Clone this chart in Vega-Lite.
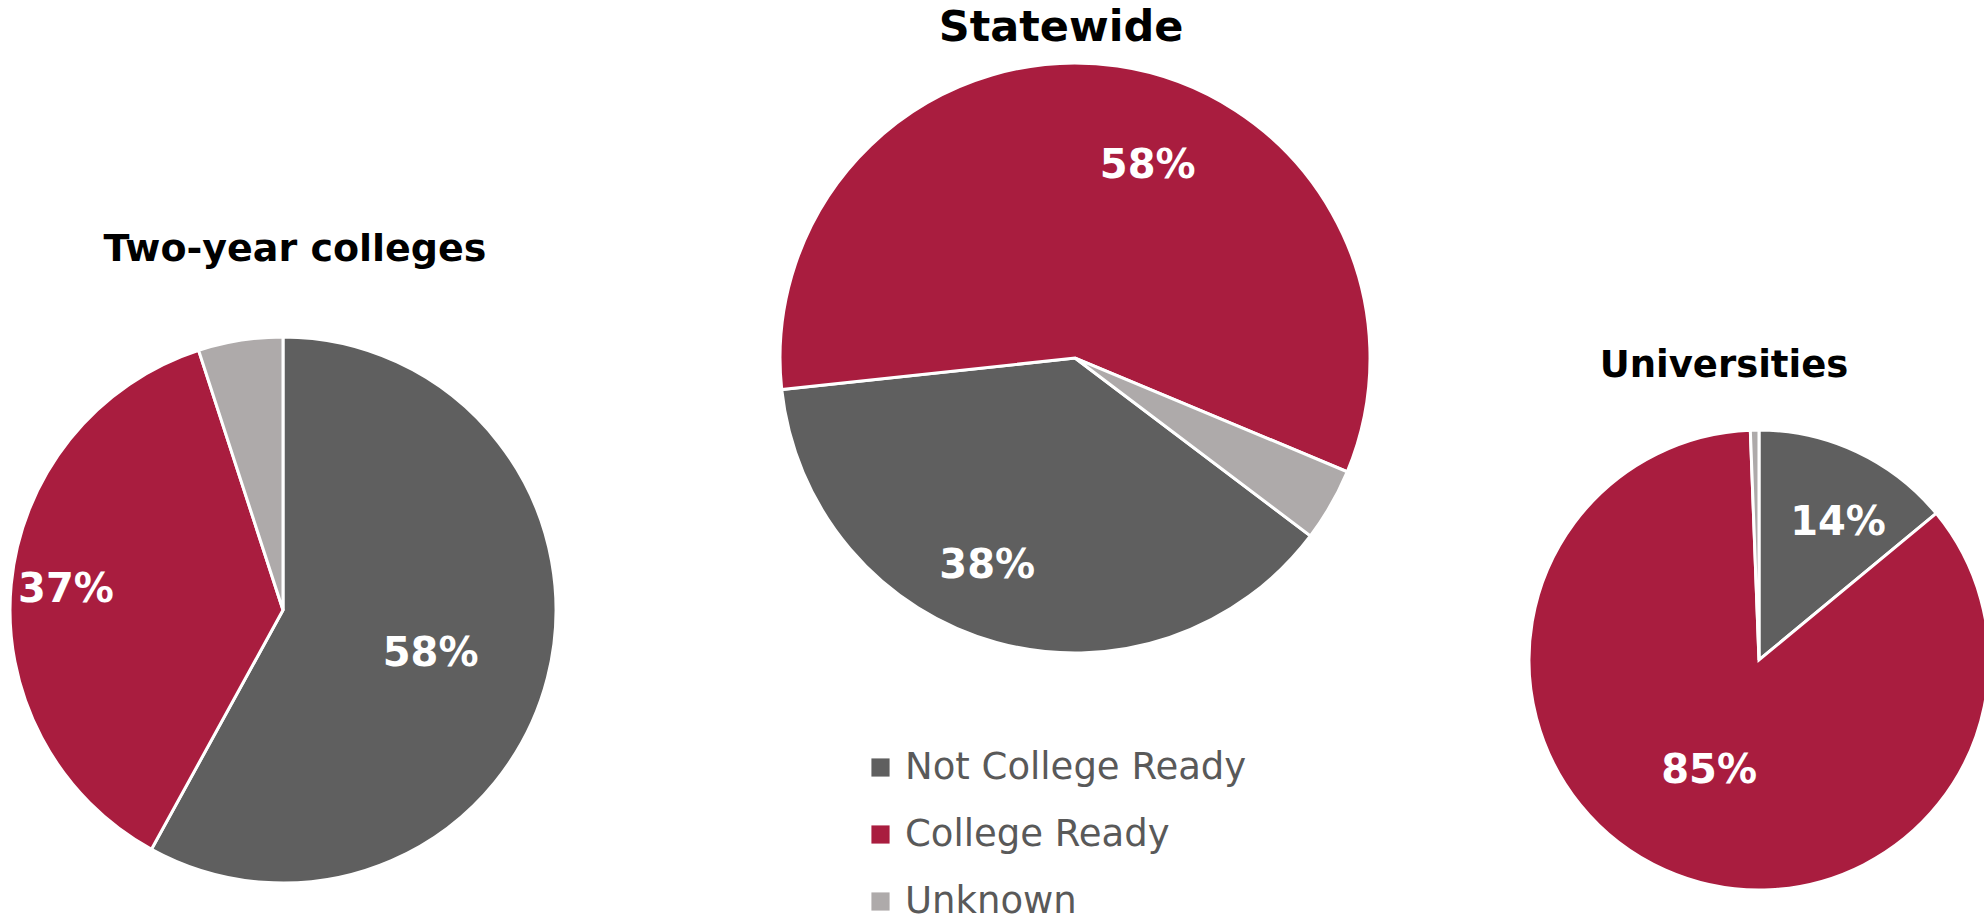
{
  "$schema": "https://vega.github.io/schema/vega-lite/v6.json",
  "padding": 0,
  "background": "white",
  "config": {
    "view": {"stroke": null},
    "font": "DejaVu Sans",
    "legend": {"title": null, "orient": "none", "legendX": 862, "legendY": 749, "symbolType": "square", "symbolSize": 330, "symbolStrokeWidth": 0, "labelFontSize": 37, "labelFont": "DejaVu Sans", "labelColor": "#595959", "rowPadding": 29, "labelOffset": 6, "labelLimit": 0}
  },
  "data": {"values": [
    {"panel": "Two-year colleges", "status": "Not College Ready", "seq": 1, "value": 0.58},
    {"panel": "Two-year colleges", "status": "College Ready", "seq": 2, "value": 0.37},
    {"panel": "Two-year colleges", "status": "Unknown", "seq": 3, "value": 0.05},
    {"panel": "Statewide", "status": "Not College Ready", "seq": 1, "value": 0.38},
    {"panel": "Statewide", "status": "College Ready", "seq": 2, "value": 0.58},
    {"panel": "Statewide", "status": "Unknown", "seq": 3, "value": 0.04},
    {"panel": "Universities", "status": "Not College Ready", "seq": 1, "value": 0.14},
    {"panel": "Universities", "status": "College Ready", "seq": 2, "value": 0.854},
    {"panel": "Universities", "status": "Unknown", "seq": 3, "value": 0.006}
  ]},
  "spacing": 0,
  "bounds": "flush",
  "resolve": {"scale": {"theta": "independent", "x": "independent", "y": "independent", "color": "shared"}},
  "hconcat": [
    {
      "width": 566, "height": 919,
      "title": {"text": "Two-year colleges", "fontSize": 38, "font": "DejaVu Sans", "fontWeight": "bold", "color": "#000000", "anchor": "middle", "baseline": "alphabetic", "offset": -299, "dx": 12},
      "transform": [{"filter": "datum.panel === 'Two-year colleges'"}],
      "encoding": {
        "x": {"field": "panel", "type": "nominal", "axis": null, "scale": {"align": 0.5}},
        "y": {"field": "panel", "type": "nominal", "axis": null, "scale": {"align": 0.6638}},
        "theta": {"field": "value", "type": "quantitative", "stack": true},
        "order": {"field": "seq", "type": "quantitative"},
        "color": {"field": "status", "type": "nominal",
          "scale": {"domain": ["Not College Ready", "College Ready", "Unknown"], "range": ["#5f5f5f", "#a91d3f", "#aeaaaa"]}}
      },
      "layer": [
        {"mark": {"type": "arc", "outerRadius": 273, "stroke": "white", "strokeWidth": 3}},
        {"mark": {"type": "text", "font": "DejaVu Sans", "fontWeight": "bold", "fontSize": 40, "radius": 218},
         "encoding": {
           "color": {"value": "white"}, "detail": {"field": "status", "type": "nominal"},
           "text": {"condition": {"test": "datum.status !== 'College Ready'", "value": ""}, "field": "value", "type": "quantitative", "format": ".0%"}
         }},
        {"mark": {"type": "text", "font": "DejaVu Sans", "fontWeight": "bold", "fontSize": 40, "radius": 154, "thetaOffset": 0.038},
         "encoding": {
           "color": {"value": "white"}, "detail": {"field": "status", "type": "nominal"},
           "text": {"condition": {"test": "datum.status !== 'Not College Ready'", "value": ""}, "field": "value", "type": "quantitative", "format": ".0%"}
         }}
      ]
    },
    {
      "width": 934, "height": 919,
      "title": {"text": "Statewide", "fontSize": 43, "font": "DejaVu Sans", "fontWeight": "bold", "color": "#000000", "anchor": "middle", "baseline": "alphabetic", "offset": -84, "dx": 28},
      "transform": [{"filter": "datum.panel === 'Statewide'"}],
      "encoding": {
        "x": {"field": "panel", "type": "nominal", "axis": null, "scale": {"align": 0.545}},
        "y": {"field": "panel", "type": "nominal", "axis": null, "scale": {"align": 0.3896}},
        "theta": {"field": "value", "type": "quantitative", "stack": true, "scale": {"range": [2.218, 8.501]}},
        "order": {"field": "seq", "type": "quantitative"},
        "color": {"field": "status", "type": "nominal",
          "scale": {"domain": ["Not College Ready", "College Ready", "Unknown"], "range": ["#5f5f5f", "#a91d3f", "#aeaaaa"]}}
      },
      "layer": [
        {"mark": {"type": "arc", "outerRadius": 295, "stroke": "white", "strokeWidth": 3}},
        {"mark": {"type": "text", "font": "DejaVu Sans", "fontWeight": "bold", "fontSize": 40, "radius": 205, "thetaOffset": 0.218},
         "encoding": {
           "color": {"value": "white"}, "detail": {"field": "status", "type": "nominal"},
           "text": {"condition": {"test": "datum.status !== 'College Ready'", "value": ""}, "field": "value", "type": "quantitative", "format": ".0%"}
         }},
        {"mark": {"type": "text", "font": "DejaVu Sans", "fontWeight": "bold", "fontSize": 40, "radius": 226, "thetaOffset": 0.129},
         "encoding": {
           "color": {"value": "white"}, "detail": {"field": "status", "type": "nominal"},
           "text": {"condition": {"test": "datum.status !== 'Not College Ready'", "value": ""}, "field": "value", "type": "quantitative", "format": ".0%"}
         }}
      ]
    },
    {
      "width": 484, "height": 919,
      "title": {"text": "Universities", "fontSize": 37, "font": "DejaVu Sans", "fontWeight": "bold", "color": "#000000", "anchor": "middle", "baseline": "alphabetic", "offset": -414, "dx": -18},
      "transform": [{"filter": "datum.panel === 'Universities'"}],
      "encoding": {
        "x": {"field": "panel", "type": "nominal", "axis": null, "scale": {"align": 0.5351}},
        "y": {"field": "panel", "type": "nominal", "axis": null, "scale": {"align": 0.7182}},
        "theta": {"field": "value", "type": "quantitative", "stack": true},
        "order": {"field": "seq", "type": "quantitative"},
        "color": {"field": "status", "type": "nominal",
          "scale": {"domain": ["Not College Ready", "College Ready", "Unknown"], "range": ["#5f5f5f", "#a91d3f", "#aeaaaa"]}}
      },
      "layer": [
        {"mark": {"type": "arc", "outerRadius": 230, "stroke": "white", "strokeWidth": 3, "clip": true}},
        {"mark": {"type": "text", "font": "DejaVu Sans", "fontWeight": "bold", "fontSize": 40, "radius": 122},
         "encoding": {
           "color": {"value": "white"}, "detail": {"field": "status", "type": "nominal"},
           "text": {"condition": {"test": "datum.status !== 'College Ready'", "value": ""}, "field": "value", "type": "quantitative", "format": ".0%"}
         }},
        {"mark": {"type": "text", "font": "DejaVu Sans", "fontWeight": "bold", "fontSize": 40, "radius": 158, "thetaOffset": 0.084},
         "encoding": {
           "color": {"value": "white"}, "detail": {"field": "status", "type": "nominal"},
           "text": {"condition": {"test": "datum.status !== 'Not College Ready'", "value": ""}, "field": "value", "type": "quantitative", "format": ".0%"}
         }}
      ]
    }
  ]
}
